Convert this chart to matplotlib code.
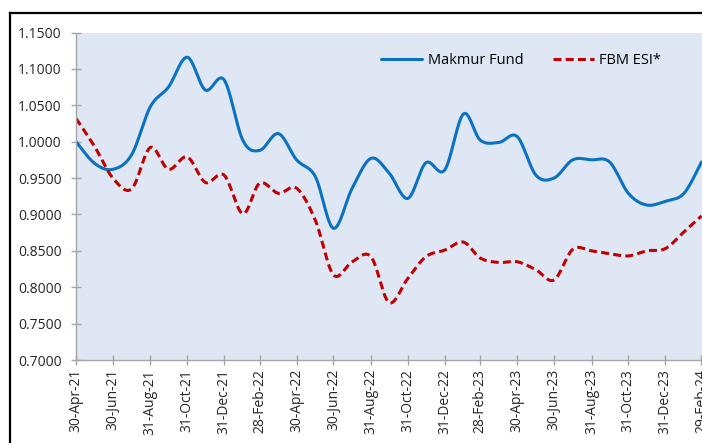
import numpy as np
import pandas as pd
import matplotlib
matplotlib.use("Agg")
import matplotlib.pyplot as plt
import matplotlib.dates as mdates
from matplotlib.lines import Line2D

plt.rcParams['font.family'] = ['Open Sans', 'DejaVu Sans']

# ---- data ----
months = pd.date_range('2021-04-30', '2024-02-29', freq='ME')
makmur = [1.000, 0.970, 0.962, 0.982, 1.048, 1.075, 1.116, 1.071, 1.085, 1.002,
          0.988, 1.011, 0.975, 0.952, 0.881, 0.936, 0.977, 0.957, 0.922, 0.971,
          0.961, 1.038, 1.002, 0.999, 1.007, 0.954, 0.950, 0.975, 0.975, 0.972,
          0.929, 0.913, 0.918, 0.929, 0.972]
fbm = [1.032, 0.993, 0.950, 0.935, 0.992, 0.962, 0.979, 0.944, 0.954, 0.901,
       0.943, 0.929, 0.936, 0.892, 0.817, 0.835, 0.842, 0.779, 0.812, 0.842,
       0.851, 0.862, 0.840, 0.834, 0.835, 0.824, 0.810, 0.852, 0.850, 0.846,
       0.843, 0.850, 0.853, 0.876, 0.898]
series_names = ['Makmur Fund', 'FBM ESI*']
y_ticks = [0.70, 0.75, 0.80, 0.85, 0.90, 0.95, 1.00, 1.05, 1.10, 1.15]
tick_dates = months[::2]


def smooth(x, y, n=30):
    """Catmull-Rom style smoothing (like Excel smoothed lines)."""
    x = np.asarray(x, float)
    y = np.asarray(y, float)
    P = np.column_stack([x, y])
    Pp = np.vstack([P[0], P, P[-1]])
    out = []
    t = np.linspace(0, 1, n)
    for i in range(len(P) - 1):
        p0, p1, p2, p3 = Pp[i], Pp[i + 1], Pp[i + 2], Pp[i + 3]
        c1 = p1 + (p2 - p0) / 6.0
        c2 = p2 - (p3 - p1) / 6.0
        seg = ((1 - t)[:, None] ** 3) * p1 + 3 * ((1 - t) ** 2 * t)[:, None] * c1 \
            + 3 * ((1 - t) * t ** 2)[:, None] * c2 + (t ** 3)[:, None] * p2
        out.append(seg if i == 0 else seg[1:])
    S = np.vstack(out)
    return S[:, 0], S[:, 1]


W, H = 702, 443
fig = plt.figure(figsize=(W / 100, H / 100), dpi=100)
ax = fig.add_axes([76 / W, (H - 360) / H, (701.5 - 76) / W, (360 - 32.5) / H])
ax.set_facecolor('#DEE7F3')

xn = mdates.date2num(months)
sx, sy = smooth(xn, makmur)
ax.plot(sx, sy, color='#0A72C0', lw=2.2, label=series_names[0], solid_capstyle='round')
rx, ry = smooth(xn, fbm)
ax.plot(rx, ry, color='#C00000', lw=2.2, ls=(0, (2.6, 1.4)), label=series_names[1])

ax.set_xlim(mdates.date2num(months[0]), mdates.date2num(months[-1]))
ax.set_ylim(0.70, 1.15)
ax.set_yticks(y_ticks)
ax.set_yticklabels([f'{v:.4f}' for v in y_ticks])
ax.set_xticks(mdates.date2num(tick_dates))
ax.set_xticklabels([d.strftime('%d-%b-%y') for d in tick_dates], rotation=90)

for s in ['top', 'right']:
    ax.spines[s].set_visible(False)
for s in ['left', 'bottom']:
    ax.spines[s].set_color('#A6A6A6')
    ax.spines[s].set_linewidth(1.0)
ax.tick_params(axis='both', direction='inout', length=7, width=1.0, color='#A6A6A6',
               labelsize=10, labelcolor='#262626')
ax.tick_params(axis='y', pad=7)
ax.tick_params(axis='x', pad=3)

leg = ax.legend(loc='upper center', bbox_to_anchor=(0.712, 0.978), ncol=2, frameon=False,
                fontsize=10.5, handlelength=2.8, handletextpad=0.4, columnspacing=2.0)

# outer frame (partially visible)
fig.add_artist(Line2D([9.5 / W, 9.5 / W], [0, (H - 12.5) / H], color='black', lw=1.6,
                      transform=fig.transFigure))
fig.add_artist(Line2D([9.5 / W, 1], [(H - 12.5) / H, (H - 12.5) / H], color='black', lw=1.6,
                      transform=fig.transFigure))

fig.savefig('out.png', dpi=100)
